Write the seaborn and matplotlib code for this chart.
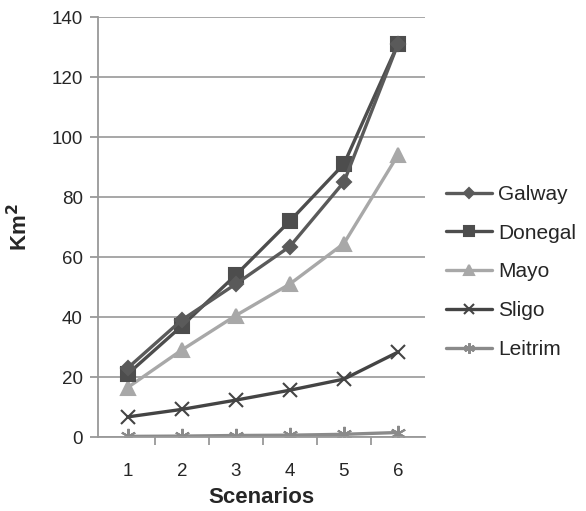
import matplotlib
matplotlib.use("Agg")
import matplotlib.pyplot as plt
import seaborn as sns
import pandas as pd

scenarios = [1, 2, 3, 4, 5, 6]
galway = [23, 39, 51, 63.5, 85, 131]
donegal = [21, 37, 54, 72, 91, 131]
mayo = [16.5, 29, 40.5, 51, 64.5, 94]
sligo = [6.7, 9.2, 12.3, 15.6, 19.3, 28.3]
leitrim = [0.2, 0.3, 0.5, 0.6, 0.9, 1.5]
series_names = ["Galway", "Donegal", "Mayo", "Sligo", "Leitrim"]
y_ticks = [0, 20, 40, 60, 80, 100, 120, 140]

sns.set_theme(style="white")
plt.rcParams['font.family'] = ['Liberation Sans', 'DejaVu Sans']

fig = plt.figure(figsize=(5.86, 5.11), dpi=100)
ax = fig.add_axes([98/586, 1-437/511, 327/586, 420/511])

styles = {
    "Galway": dict(color="#5a5a5a", marker="D", ms=7, zorder=4),
    "Donegal": dict(color="#4d4d4d", marker="s", ms=10, zorder=3),
    "Mayo": dict(color="#a8a8a8", marker="^", ms=10, zorder=2),
    "Sligo": dict(color="#444444", marker="x", ms=10, zorder=2),
    "Leitrim": dict(color="#8a8a8a", marker=(6, 2, 0), ms=11, zorder=2),
}
data = [galway, donegal, mayo, sligo, leitrim]
for name, vals in zip(series_names, data):
    st = styles[name]
    sns.lineplot(x=scenarios, y=vals, ax=ax, color=st["color"], marker=st["marker"],
                 markersize=st["ms"], linewidth=2.4, label=name, zorder=st["zorder"],
                 markeredgecolor=st["color"], markeredgewidth=1.5)

ax.set_xlim(0.45, 6.5)
ax.set_ylim(0, 140)
ax.set_yticks(y_ticks)
ax.set_xticks(scenarios)
ax.set_xticks([1.5, 2.5, 3.5, 4.5, 5.5], minor=True)
ax.yaxis.grid(True, color="#a0a0a0", linewidth=1.3)
ax.set_axisbelow(True)
for s in ["top", "right"]:
    ax.spines[s].set_visible(False)
ax.spines["left"].set_color("#999999")
ax.spines["bottom"].set_color("#999999")
ax.spines["left"].set_linewidth(1.3)
ax.spines["bottom"].set_linewidth(1.3)
ax.tick_params(axis="y", which="major", length=6, color="#999999", width=1.3, labelsize=13.5, left=True, pad=5)
ax.tick_params(axis="x", which="major", length=0, labelsize=13.5, pad=19)
ax.tick_params(axis="x", which="minor", length=6, color="#999999", width=1.3, bottom=True)
ax.set_xlabel("Scenarios", fontsize=16, fontweight="bold", labelpad=5)
ax.set_ylabel("Km$^\\mathbf{2}$", fontsize=16, fontweight="bold", labelpad=14)

ax.legend(loc="center left", bbox_to_anchor=(1.04, 0.393), frameon=False, fontsize=15,
          handlelength=2.2, labelspacing=0.95, handletextpad=0.3, markerscale=0.7,
          borderaxespad=0)

fig.savefig("out.png", dpi=100)
